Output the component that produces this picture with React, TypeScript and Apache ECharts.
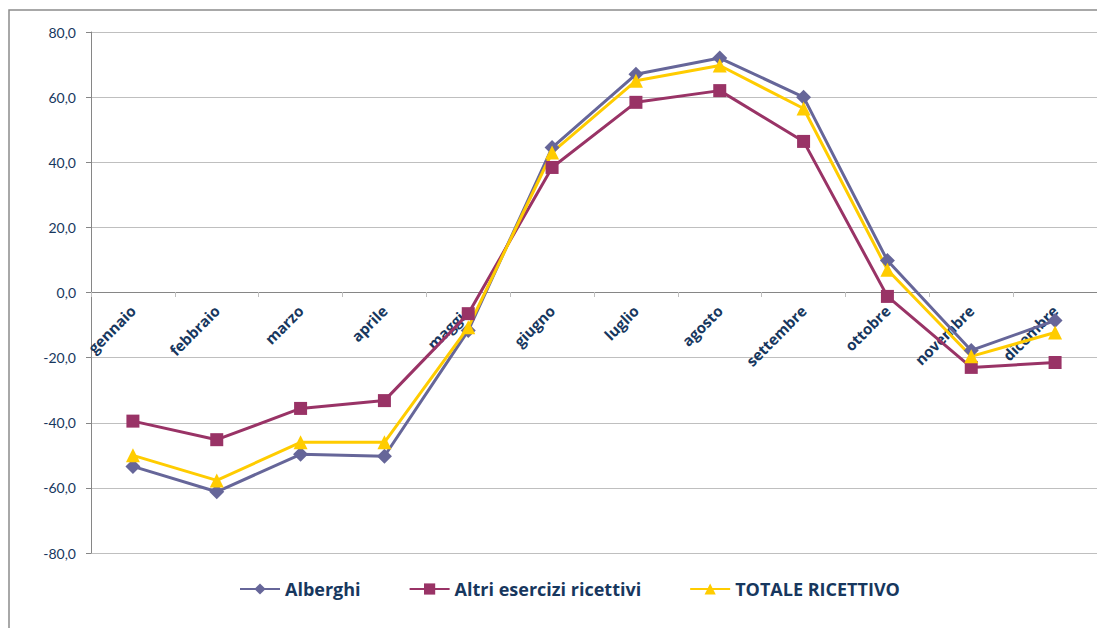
import React, { useEffect, useRef } from "react";
import * as echarts from "echarts";

const months = ["gennaio", "febbraio", "marzo", "aprile", "maggio", "giugno", "luglio", "agosto", "settembre", "ottobre", "novembre", "dicembre"];
const alberghi = [-53.4, -61.2, -49.7, -50.3, -11.7, 44.5, 67.0, 72.0, 60.0, 9.8, -17.8, -8.6];
const altri = [-39.5, -45.2, -35.6, -33.2, -6.5, 38.4, 58.4, 62.0, 46.4, -1.2, -23.0, -21.5];
const totale = [-50.0, -57.7, -46.0, -46.0, -10.7, 43.0, 65.0, 69.7, 56.5, 7.0, -19.6, -12.3];
const seriesNames = ["Alberghi", "Altri esercizi ricettivi", "TOTALE RICETTIVO"];

const textColor = "#17375E";
const font = "Lato, 'Open Sans', sans-serif";
const boldFont = "'Open Sans', Lato, sans-serif";

export default function App() {
  const ref = useRef<HTMLDivElement>(null);
  useEffect(() => {
    if (!ref.current) return;
    const chart = echarts.init(ref.current, undefined, { renderer: "svg" });
    const mk = (name: string, data: number[], color: string, symbol: string, size: number) => ({
      name,
      type: "line",
      data,
      symbol,
      symbolSize: size,
      lineStyle: { color, width: 3 },
      itemStyle: { color },
      z: 3,
    });
    chart.setOption({
      animation: false,
      textStyle: { fontFamily: font },
      graphic: [
        {
          type: "rect",
          shape: { x: 9, y: 10, width: 1200, height: 700 },
          style: { fill: "none", stroke: "#8c8c8c", lineWidth: 1.5 },
          z: -1,
        },
      ],
      grid: { left: 91, right: 0, top: 32, bottom: 75 },
      legend: {
        bottom: 25,
        left: 234,
        itemWidth: 40,
        itemHeight: 14,
        itemGap: 48,
        textStyle: { color: textColor, fontSize: 18, fontWeight: "bold", fontFamily: boldFont },
        data: seriesNames,
      },
      xAxis: {
        type: "category",
        data: months,
        boundaryGap: true,
        position: "bottom",
        offset: -261,
        axisLine: { onZero: false, lineStyle: { color: "#868686", width: 1 } },
        axisTick: { show: true, length: 5, lineStyle: { color: "#bfbfbf" } },
        axisLabel: {
          interval: 0,
          rotate: 45,
          margin: 16,
          color: textColor,
          fontWeight: "bold",
          fontSize: 15,
          fontFamily: boldFont,
        },
        splitLine: { show: false },
      },
      yAxis: {
        type: "value",
        min: -80,
        max: 80,
        interval: 20,
        axisLine: { show: true, lineStyle: { color: "#868686", width: 1 } },
        axisTick: { show: true, length: 5, lineStyle: { color: "#868686" } },
        axisLabel: {
          color: textColor,
          fontSize: 14,
          margin: 15,
          fontFamily: font,
          formatter: (v: number) => v.toFixed(1).replace(".", ","),
        },
        splitLine: { show: true, lineStyle: { color: "#bfbfbf", width: 1 } },
      },
      series: [
        mk(seriesNames[0], alberghi, "#666699", "diamond", 15),
        mk(seriesNames[1], altri, "#993366", "rect", 13),
        mk(seriesNames[2], totale, "#FFCC00", "triangle", 14),
      ],
    });
    return () => chart.dispose();
  }, []);
  return (
    <div
      ref={ref}
      style={{ position: "fixed", left: 0, top: 0, width: 1097, height: 628, background: "#fff" }}
    />
  );
}
